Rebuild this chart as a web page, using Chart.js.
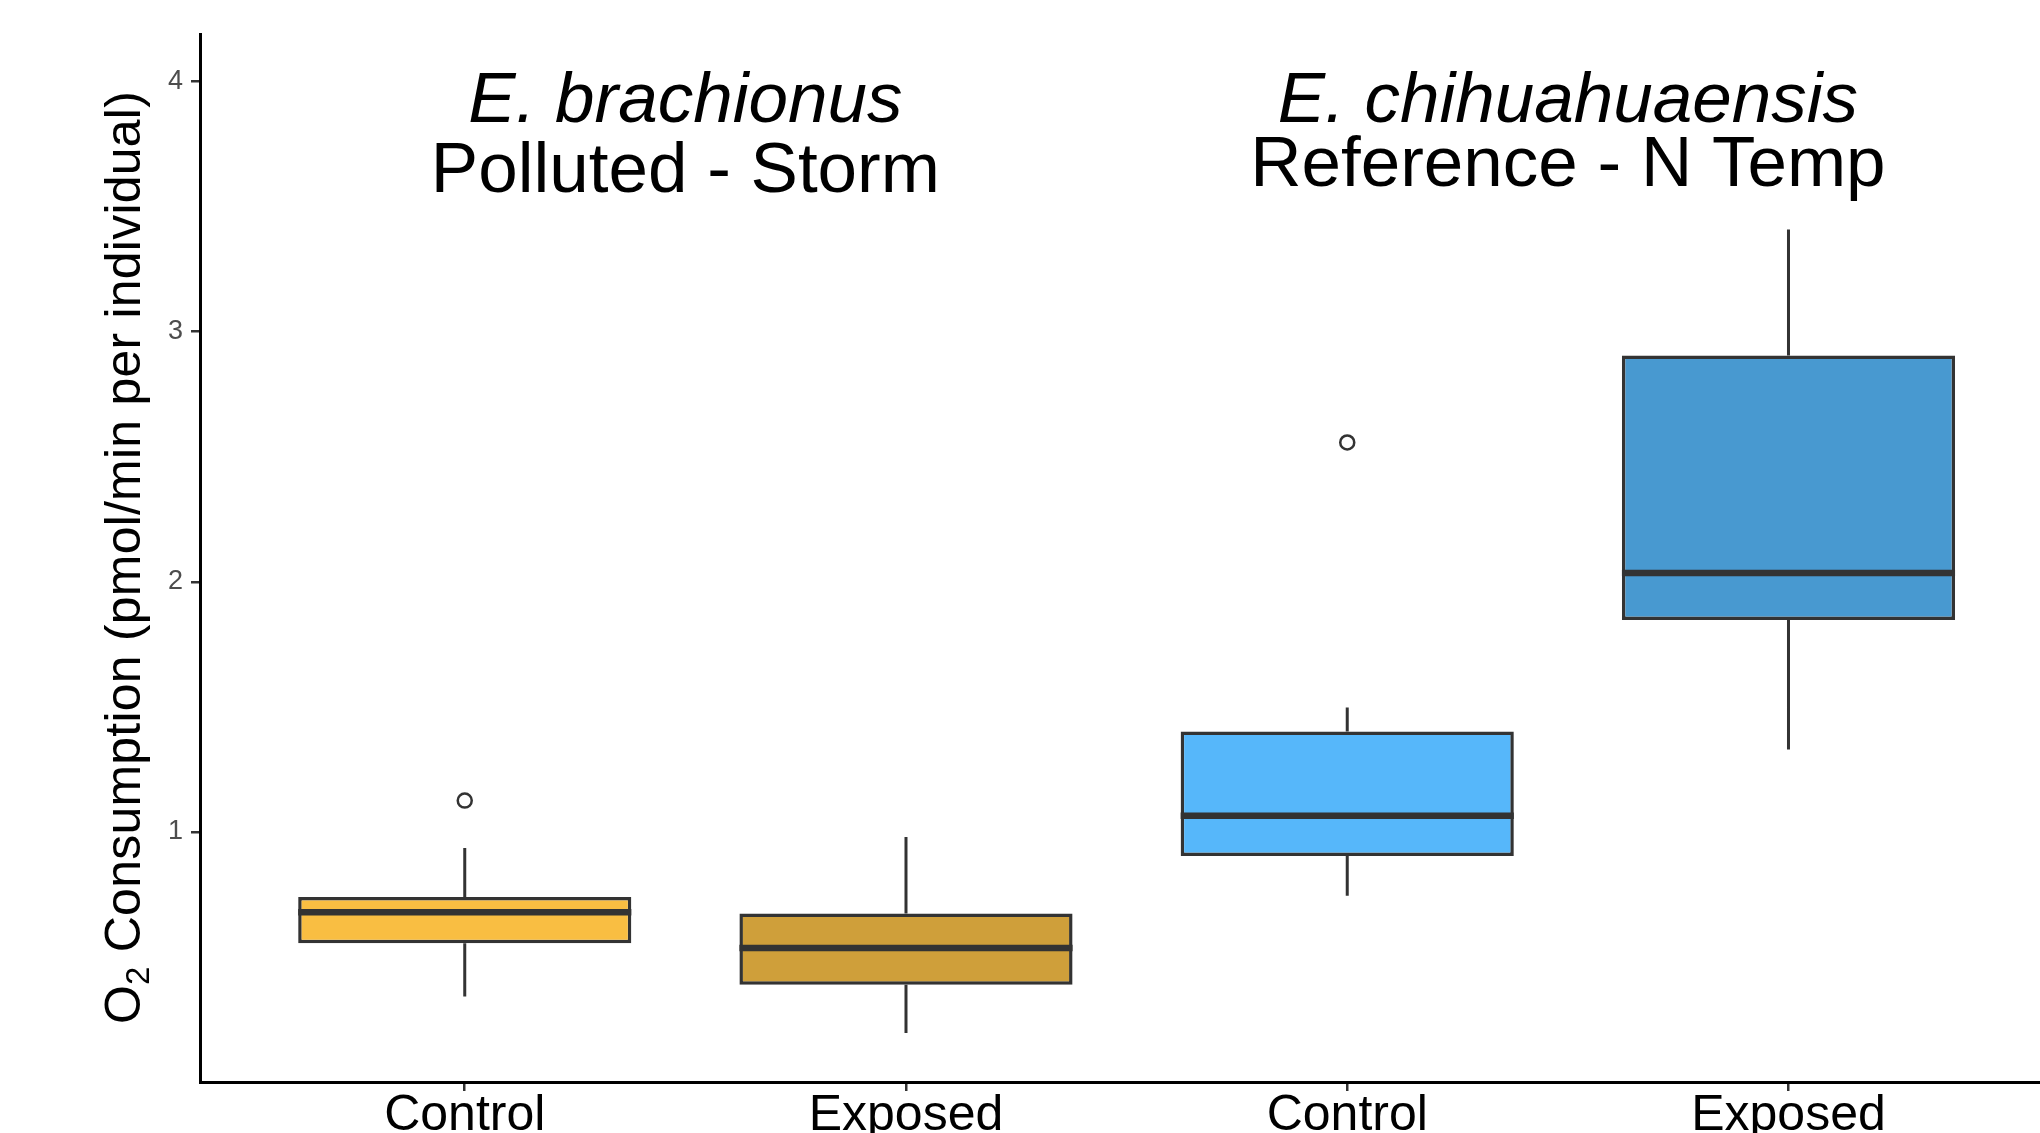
<!DOCTYPE html>
<html>
<head>
<meta charset="utf-8">
<script src="https://cdn.jsdelivr.net/npm/chart.js@4.4.1/dist/chart.umd.min.js"></script>
<style>
  html, body { margin: 0; padding: 0; background: #fff; }
  canvas { display: block; }
</style>
</head>
<body>
<canvas id="o2-chart" width="2040" height="1133" style="width:2040px;height:1133px"></canvas>
<script>
// values (pmol/min per individual)
const groups = ["Control", "Exposed", "Control", "Exposed"];
const boxColors = ["#F9BE42", "#CF9F3A", "#56B7FA", "#4899D0"];
const q1 = [0.555, 0.389, 0.904, 1.847];
const medians = [0.679, 0.536, 1.064, 2.035];
const q3 = [0.74, 0.674, 1.401, 2.905];
const whiskerLow = [0.342, 0.196, 0.745, 1.329];
const whiskerHigh = [0.936, 0.98, 1.497, 3.408];
const outliers = [[1.125], [], [2.557], []];
const yTicks = [1, 2, 3, 4];
const species = ["E. brachionus", "E. chihuahuaensis"];
const sites = ["Polluted - Storm", "Reference - N Temp"];

// where the two panel labels sit (data units)
const labelX = [0.5, 2.5];
const speciesY = [3.84, 3.84];
const siteY = [3.558, 3.584];

const FONT = '"Liberation Sans", Arial, sans-serif';
const halfBox = 0.3775;
const pos = groups.map((g, i) => i);

// boxes as floating bars
const boxData = pos.map(i => ({ x: i, y: [q1[i], q3[i]] }));

// whiskers, broken with null points
const whiskerData = [];
pos.forEach(i => {
  whiskerData.push({ x: i, y: q3[i] }, { x: i, y: whiskerHigh[i] }, { x: i, y: null });
  whiskerData.push({ x: i, y: q1[i] }, { x: i, y: whiskerLow[i] }, { x: i, y: null });
});

const medianData = [];
pos.forEach(i => {
  medianData.push({ x: i - halfBox, y: medians[i] }, { x: i + halfBox, y: medians[i] }, { x: i, y: null });
});

const outlierData = [];
outliers.forEach((list, i) => list.forEach(v => outlierData.push({ x: i, y: v })));

// panel labels and y title (with subscript)
const labelsPlugin = {
  id: 'panelLabels',
  afterDraw(chart) {
    const { ctx, scales: { x, y } } = chart;
    ctx.save();
    ctx.fillStyle = '#000';
    ctx.textAlign = 'center';
    ctx.textBaseline = 'alphabetic';
    species.forEach((name, i) => {
      const cx = x.getPixelForValue(labelX[i]);
      ctx.font = 'italic 71px ' + FONT;
      ctx.fillText(name, cx, y.getPixelForValue(speciesY[i]));
      ctx.font = '71px ' + FONT;
      ctx.fillText(sites[i], cx, y.getPixelForValue(siteY[i]));
    });
    ctx.restore();

    ctx.save();
    const mainFont = '50px ' + FONT;
    const subFont = '33px ' + FONT;
    const rest = ' Consumption (pmol/min per individual)';
    ctx.font = mainFont;
    const wO = ctx.measureText('O').width;
    const wRest = ctx.measureText(rest).width;
    ctx.font = subFont;
    const w2 = ctx.measureText('2').width;
    const target = 933;
    const nChars = 2 + rest.length;
    const spacing = Math.max(0, (target - (wO + w2 + wRest)) / nChars);
    ctx.translate(140, 557.5);
    ctx.rotate(-Math.PI / 2);
    ctx.fillStyle = '#000';
    ctx.textAlign = 'left';
    ctx.textBaseline = 'alphabetic';
    ctx.letterSpacing = spacing + 'px';
    let tx = -target / 2;
    ctx.font = mainFont;
    ctx.fillText('O', tx, 0);
    tx += wO + spacing;
    ctx.font = subFont;
    ctx.fillText('2', tx, 9);
    tx += w2 + spacing;
    ctx.font = mainFont;
    ctx.fillText(rest, tx, 0);
    ctx.restore();
  }
};

Chart.defaults.font.family = FONT;

const axisBorder = { display: true, color: '#000000', width: 3 };

new Chart(document.getElementById('o2-chart'), {
  type: 'bar',
  data: {
    datasets: [
      {
        type: 'line',
        data: medianData,
        borderColor: '#333333',
        borderWidth: 6.5,
        borderCapStyle: 'butt',
        pointRadius: 0,
        spanGaps: false,
        order: 0
      },
      {
        type: 'scatter',
        data: outlierData,
        pointRadius: 7,
        pointBorderWidth: 2.5,
        pointBorderColor: '#333333',
        pointBackgroundColor: 'rgba(0,0,0,0)',
        order: 0
      },
      {
        type: 'bar',
        data: boxData,
        backgroundColor: boxColors,
        borderColor: '#333333',
        borderWidth: 3.5,
        borderSkipped: false,
        categoryPercentage: 1,
        barPercentage: halfBox * 2,
        order: 2
      },
      {
        type: 'line',
        data: whiskerData,
        borderColor: '#333333',
        borderWidth: 3,
        borderCapStyle: 'butt',
        pointRadius: 0,
        spanGaps: false,
        order: 3
      }
    ]
  },
  options: {
    responsive: false,
    animation: false,
    devicePixelRatio: 1,
    layout: { autoPadding: false, padding: { top: 34, left: 0, right: 0, bottom: 0 } },
    plugins: {
      legend: { display: false },
      tooltip: { enabled: false }
    },
    scales: {
      x: {
        type: 'linear',
        min: -0.6,
        max: 3.57,
        offset: false,
        afterBuildTicks: s => { s.ticks = pos.map(v => ({ value: v })); },
        afterFit: s => { s.height = 51; },
        ticks: {
          callback: v => groups[v],
          color: '#000000',
          font: { size: 50, lineHeight: 1 },
          padding: 0,
          maxRotation: 0,
          autoSkip: false
        },
        grid: { offset: false, drawOnChartArea: false, drawTicks: true, tickLength: 9, color: '#333333', lineWidth: 2.5 },
        border: axisBorder
      },
      y: {
        min: 0,
        max: 4.19,
        afterBuildTicks: s => { s.ticks = yTicks.map(v => ({ value: v })); },
        afterFit: s => { s.width = 200; },
        ticks: { color: '#4D4D4D', font: { size: 27 }, padding: 8 },
        grid: { drawOnChartArea: false, drawTicks: true, tickLength: 9, color: '#333333', lineWidth: 2.5 },
        border: axisBorder
      }
    }
  },
  plugins: [labelsPlugin]
});
</script>
</body>
</html>
